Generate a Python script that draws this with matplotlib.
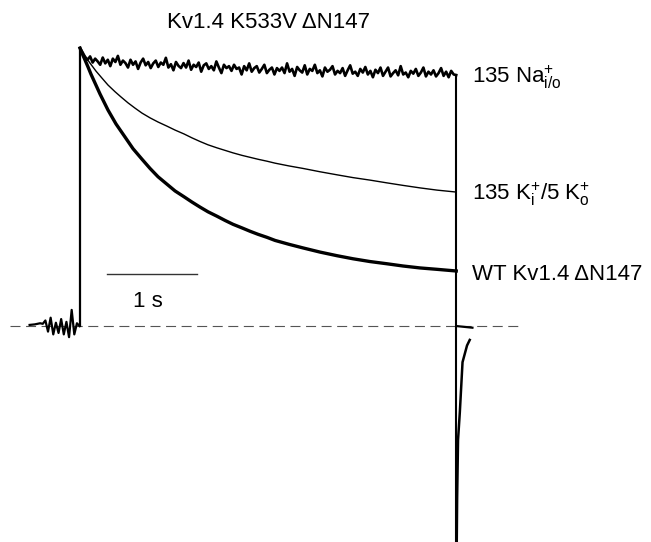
import numpy as np
import matplotlib.pyplot as plt

plt.rcParams['font.family'] = ['Liberation Sans', 'DejaVu Sans']
plt.rcParams['mathtext.fontset'] = 'custom'
plt.rcParams['mathtext.rm'] = 'Liberation Sans'
plt.rcParams['mathtext.it'] = 'Liberation Sans:italic'

# время, с; ток нормирован на пик
t_end = 4.18

# WT Kv1.4 dN147 (толстая кривая)
wt_t = [0.0, 0.022, 0.056, 0.089, 0.122, 0.167, 0.222, 0.311, 0.4, 0.5,
        0.589, 0.689, 0.778, 0.867, 0.967, 1.056, 1.156, 1.244, 1.333, 1.422,
        1.522, 1.611, 1.7, 1.8, 1.889, 1.978, 2.078, 2.167, 2.322, 2.478,
        2.667, 2.856, 3.033, 3.222, 3.411, 3.589, 3.778, 3.967, 4.18]
wt_i = [1.0, 0.982, 0.957, 0.932, 0.906, 0.874, 0.835, 0.777, 0.727, 0.68,
        0.638, 0.6, 0.567, 0.537, 0.51, 0.486, 0.465, 0.446, 0.428, 0.411,
        0.395, 0.38, 0.366, 0.353, 0.341, 0.33, 0.319, 0.308, 0.294, 0.281,
        0.266, 0.253, 0.242, 0.232, 0.224, 0.216, 0.209, 0.204, 0.198]

# 135 K+i / 5 K+o (тонкая кривая)
k_t = [0.0, 0.056, 0.111, 0.178, 0.244, 0.311, 0.389, 0.456, 0.533, 0.611,
       0.689, 0.778, 0.867, 0.967, 1.056, 1.156, 1.244, 1.333, 1.422, 1.522,
       1.611, 1.7, 1.8, 1.889, 1.978, 2.078, 2.167, 2.322, 2.478, 2.667,
       2.856, 3.033, 3.222, 3.411, 3.589, 3.778, 3.967, 4.18]
k_i = [0.993, 0.971, 0.946, 0.917, 0.892, 0.867, 0.843, 0.824, 0.803, 0.784,
       0.766, 0.749, 0.734, 0.719, 0.705, 0.691, 0.677, 0.664, 0.652, 0.641,
       0.632, 0.623, 0.614, 0.607, 0.6, 0.593, 0.586, 0.576, 0.567, 0.555,
       0.544, 0.534, 0.525, 0.515, 0.506, 0.497, 0.489, 0.482]

# 135 Na+ i/o (шумная, почти без инактивации)
na_i = [1.0, 0.985, 0.968, 0.958, 0.97, 0.948, 0.962, 0.952, 0.94, 0.966,
        0.945, 0.958, 0.935, 0.962, 0.95, 0.972, 0.94, 0.955, 0.946, 0.93,
        0.958, 0.94, 0.952, 0.925, 0.948, 0.962, 0.938, 0.95, 0.928, 0.945,
        0.955, 0.932, 0.948, 0.94, 0.965, 0.93, 0.942, 0.92, 0.95, 0.936,
        0.928, 0.946, 0.93, 0.955, 0.922, 0.94, 0.932, 0.948, 0.915, 0.938,
        0.945, 0.925, 0.935, 0.92, 0.952, 0.93, 0.91, 0.94, 0.928, 0.935,
        0.918, 0.94, 0.925, 0.93, 0.905, 0.935, 0.92, 0.945, 0.915, 0.928,
        0.935, 0.912, 0.925, 0.94, 0.91, 0.922, 0.93, 0.905, 0.928, 0.918,
        0.93, 0.91, 0.945, 0.915, 0.925, 0.9, 0.932, 0.92, 0.912, 0.938,
        0.905, 0.925, 0.918, 0.94, 0.91, 0.92, 0.898, 0.93, 0.915, 0.922,
        0.935, 0.905, 0.918, 0.91, 0.928, 0.9, 0.92, 0.938, 0.908, 0.915,
        0.9, 0.925, 0.912, 0.932, 0.905, 0.918, 0.895, 0.922, 0.91, 0.93,
        0.9, 0.915, 0.93, 0.898, 0.91, 0.92, 0.902, 0.935, 0.905, 0.912,
        0.895, 0.918, 0.908, 0.925, 0.9, 0.912, 0.93, 0.898, 0.915, 0.905,
        0.92, 0.898, 0.91, 0.928, 0.9, 0.915, 0.895, 0.918, 0.905, 0.903]
na_t = np.linspace(0, t_end, len(na_i))

# шум до импульса
pre_i = [0.004, 0.005, 0.006, 0.008, 0.01, 0.008, 0.02, -0.02, 0.03, -0.03,
         0.012, -0.025, 0.025, -0.03, 0.015, -0.04, 0.058, -0.03, 0.01, 0.0]
pre_t = np.linspace(-0.56, -0.005, len(pre_i))

# хвостовой ток после импульса
tail_t = [4.18, 4.19, 4.20, 4.22, 4.25, 4.30, 4.33]
tail_i = [-1.0, -0.62, -0.41, -0.31, -0.13, -0.07, -0.05]

fig = plt.figure(figsize=(6.51, 5.42), dpi=100)
ax = fig.add_axes([0, 0, 1, 1])
ax.set_xlim(-0.889, 6.344)
ax.set_ylim(-0.777, 1.173)
ax.axis('off')

ax.plot([-0.78, 4.92], [0, 0], color='#555555', lw=0.8, dashes=(9, 5))

ax.plot(pre_t, pre_i, color='k', lw=1.6)
ax.plot([0, 0], [0, 1.0], color='k', lw=1.6)          # начало импульса
ax.plot(na_t, na_i, color='k', lw=1.9)
ax.plot(k_t, k_i, color='k', lw=1.0)
ax.plot(wt_t, wt_i, color='k', lw=2.4)
ax.plot([t_end, t_end], [na_i[-1], -1.0], color='k', lw=1.5)  # конец импульса
ax.plot([t_end, 4.36], [0, -0.006], color='k', lw=1.6)
ax.plot(tail_t, tail_i, color='k', lw=1.8)

# масштаб 1 с
ax.plot([0.3, 1.3], [0.187, 0.187], color='#333333', lw=1.0)
ax.text(0.756, 0.068, '1 s', ha='center', va='baseline', fontsize=16)

ax.text(2.09, 1.072, 'Kv1.4 K533V \u0394N147', ha='center', va='baseline', fontsize=16)
ax.text(4.356, 0.874, r'135 Na$^{+}_{\mathrm{i/o}}$', ha='left', va='baseline', fontsize=16)
ax.text(4.356, 0.453, r'135 K$^{+}_{\mathrm{i}}$/5 K$^{+}_{\mathrm{o}}$', ha='left', va='baseline', fontsize=16)
ax.text(4.356, 0.165, 'WT Kv1.4 \u0394N147', ha='left', va='baseline', fontsize=16)

fig.savefig('out.png', dpi=100)
